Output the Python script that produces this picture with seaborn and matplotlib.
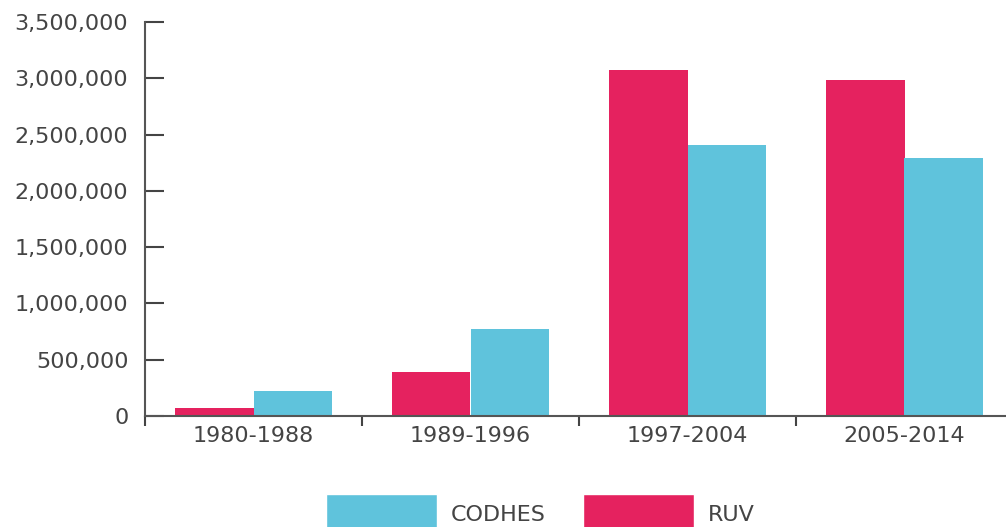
import pandas as pd
import seaborn as sns
import matplotlib.pyplot as plt
from matplotlib.patches import Patch
from matplotlib.ticker import FuncFormatter, FixedLocator

# data
periods = ['1980-1988', '1989-1996', '1997-2004', '2005-2014']
ruv = [72000, 392000, 3078000, 2988000]
codhes = [226000, 772000, 2405000, 2292000]

ruv_color = '#E5225F'
codhes_color = '#5FC3DC'
text_color = '#444444'

df = pd.DataFrame({
    'period': periods * 2,
    'source': ['RUV'] * len(periods) + ['CODHES'] * len(periods),
    'value': ruv + codhes,
})

sns.set_style('white')
plt.rcParams['font.family'] = ['DejaVu Sans']

fig = plt.figure(figsize=(10.06, 5.27), dpi=100)
ax = fig.add_axes([145 / 1006, 111 / 527, 868 / 1006, 394 / 527])

sns.barplot(data=df, x='period', y='value', hue='source',
            hue_order=['RUV', 'CODHES'],
            palette={'RUV': ruv_color, 'CODHES': codhes_color},
            width=0.72, gap=0, saturation=1, linewidth=0,
            legend=False, ax=ax)

ax.set_xlim(-0.5, len(periods) - 0.5)
ax.set_ylim(0, 3500000)
ax.set_yticks(range(0, 3500001, 500000))
ax.yaxis.set_major_formatter(FuncFormatter(lambda v, p: f'{int(v):,}'))
ax.set_xlabel('')
ax.set_ylabel('')

# boundary ticks on x axis
ax.xaxis.set_minor_locator(FixedLocator([i - 0.5 for i in range(len(periods) + 1)]))
ax.tick_params(axis='x', which='major', bottom=True, length=0, labelsize=16,
               labelcolor=text_color, pad=7)
ax.tick_params(axis='x', which='minor', bottom=True, length=7, width=1.5,
               color='#444444', direction='out')
ax.tick_params(axis='y', which='major', left=True, length=14, width=1.5,
               direction='in', color='#444444', labelsize=16,
               labelcolor=text_color, pad=12)

for side in ['top', 'right']:
    ax.spines[side].set_visible(False)
for side in ['left', 'bottom']:
    ax.spines[side].set_color('#555555')
    ax.spines[side].set_linewidth(1.5)

handles = [Patch(facecolor=codhes_color, label='CODHES'),
           Patch(facecolor=ruv_color, label='RUV')]
fig.legend(handles=handles, loc='upper center', ncol=2, frameon=False,
           bbox_to_anchor=(0.537, 1 - 494 / 527), fontsize=16,
           borderpad=0, borderaxespad=0,
           handlelength=5.0, handleheight=2.45, handletextpad=0.63,
           columnspacing=1.65, labelcolor=text_color)

fig.savefig('out.png', dpi=100)
